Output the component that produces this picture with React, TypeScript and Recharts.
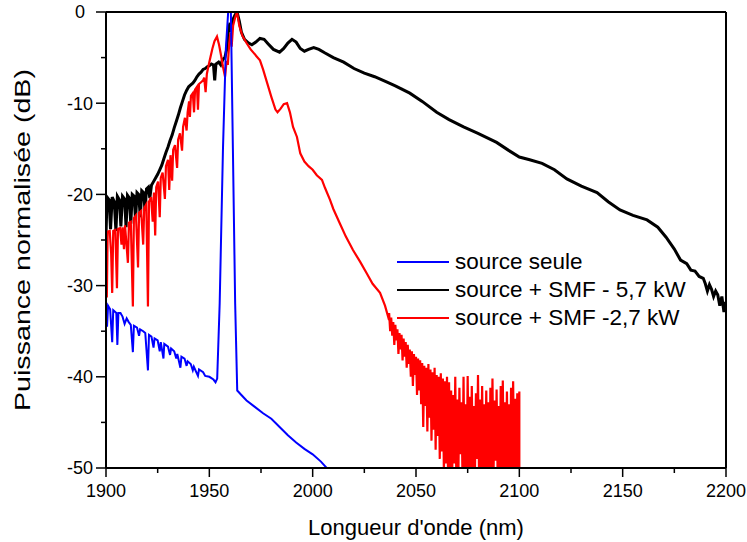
import React from 'react';
import { LineChart, Line, XAxis, YAxis, ReferenceLine } from 'recharts';

type Pt = [number, number];

// ---- axis ticks ----
const xTicks = [1900, 1925, 1950, 1975, 2000, 2025, 2050, 2075, 2100, 2125, 2150, 2175, 2200];
const yTicks = [0, -5, -10, -15, -20, -25, -30, -35, -40, -45, -50];

const seriesNames = ['source seule', 'source + SMF - 5,7 kW', 'source + SMF -2,7 kW'];
const seriesColors = ['#0000ff', '#000000', '#ff0000'];

// ---- source seule (blue) ----
const blueComb: Pt[] = [
  [1900, -32.0], [1900.5, -34.5], [1901, -32.2], [1902, -32.6], [1903, -36.2], [1903.5, -32.7],
  [1905, -33.0], [1905.5, -36.5], [1906, -33.0], [1907, -33.0], [1908, -33.4], [1909, -34.2],
  [1910, -33.6], [1911, -34.0], [1912, -34.3], [1913, -37.3], [1913.5, -34.4], [1915, -34.6],
  [1916, -35.5], [1916.5, -34.8], [1918, -35.0], [1919, -35.2], [1920.3, -39.3], [1920.8, -35.4],
  [1922, -35.6], [1923, -36.8], [1923.5, -35.8], [1925, -36.0], [1926, -37.2], [1926.5, -36.2],
  [1927.8, -38.0], [1928.2, -36.4], [1930, -36.7], [1931, -37.6], [1931.5, -36.9], [1933, -37.2],
  [1934, -38.0], [1934.5, -37.5], [1936, -39.0], [1936.5, -37.8], [1938, -38.0], [1939, -38.8],
  [1939.5, -38.3], [1941, -38.6], [1942, -39.3], [1942.5, -38.9], [1944.5, -39.9], [1945, -39.2],
  [1947, -39.5], [1948, -39.9], [1950, -40.0], [1952, -40.3], [1953, -40.6],
];
const bluePeak: Pt[] = [
  [1953.8, -40.2], [1955, -32.0], [1956.6, -15.0], [1958, -4.0], [1959.2, 0.3], [1960.4, 0.3],
  [1961.4, -15.0], [1962.5, -32.0], [1963.5, -41.5],
];
const blueTail: Pt[] = [
  [1965.5, -42.0], [1968, -42.6], [1972, -43.3], [1976, -44.0], [1980, -44.6], [1984, -45.5],
  [1988, -46.4], [1992, -47.2], [1996, -47.9], [2000, -48.5], [2004, -49.3], [2008, -50.3],
];

// ---- source + SMF 5,7 kW (black) ----
const blackComb: Pt[] = [
  [1900, -24.5], [1900.5, -20.3], [1901.5, -20.6], [1902.2, -23.8], [1903, -20.3], [1904, -20.8],
  [1904.8, -24.0], [1905.5, -20.2], [1906.5, -20.6], [1907.2, -23.5], [1908, -20.2], [1909, -20.5],
  [1909.7, -23.6], [1910.4, -20.1], [1911.3, -20.4], [1912, -23.2], [1912.7, -20.0], [1913.6, -20.2],
  [1914.3, -22.8], [1915, -19.8], [1915.8, -20.0], [1916.6, -22.5], [1917.3, -19.6], [1918.2, -19.8],
  [1918.9, -21.8], [1919.6, -19.4], [1920.5, -19.2], [1921.2, -20.4],
];
const blackRise: Pt[] = [
  [1922, -19.0], [1923, -18.6], [1924, -18.2], [1925, -17.8], [1926, -17.3], [1927, -16.8],
  [1928, -16.1], [1929, -15.4], [1930, -14.8], [1931, -14.1], [1932, -13.5], [1933, -12.7],
  [1934, -12.0], [1935, -11.3], [1936, -10.5], [1937, -9.8], [1938, -9.1], [1939, -8.6],
  [1940, -8.2], [1941, -8.0], [1942, -7.8], [1943, -7.5], [1944, -7.1], [1945, -6.8],
  [1946, -6.6], [1947, -6.3], [1948, -6.2], [1949, -6.0], [1950, -5.9], [1951, -5.7],
  [1952, -5.8], [1952.6, -7.5], [1953.2, -5.7], [1954.5, -5.5], [1955.5, -5.8], [1956.5, -5.2],
];
const blackPeak: Pt[] = [
  [1957.5, -5.0], [1958.5, -4.0], [1959.2, -2.0], [1960, -1.2], [1960.6, -2.2], [1961.5, -0.8],
  [1962.5, -0.3], [1963.4, 0.0], [1964.5, -1.0], [1965.5, -2.2], [1967, -3.0], [1969, -3.4],
  [1970.6, -3.6], [1972.5, -3.3], [1974.5, -2.9], [1976.5, -3.0], [1978.5, -3.5], [1981, -4.1],
  [1984, -4.4], [1986, -4.0], [1988, -3.4], [1990, -3.0], [1992, -3.3], [1994, -4.0],
  [1996, -4.3], [1998, -4.1], [2000.5, -3.9], [2003, -4.1], [2006, -4.5],
];
const blackTail: Pt[] = [
  [2010, -5.0], [2015, -5.5], [2020, -6.2], [2025, -6.7], [2030, -7.1], [2036, -7.7],
  [2040, -8.1], [2047, -8.9], [2053, -9.8], [2060, -11.0], [2066, -11.8], [2073, -12.6],
  [2080, -13.3], [2089, -14.3], [2095, -15.2], [2100, -15.9], [2105, -16.2], [2111, -16.6],
  [2117, -17.3], [2123, -18.3], [2130, -19.1], [2137.6, -19.8], [2143, -20.8], [2148.7, -21.7],
  [2155, -22.3], [2161.8, -22.8], [2167, -23.6], [2171, -24.7], [2175, -26.0], [2178, -27.2],
  [2181, -27.6], [2183, -28.3], [2185, -28.4], [2187, -29.0], [2189, -29.2], [2190, -29.8],
  [2191, -30.6], [2192, -29.9], [2193, -30.4], [2194, -31.2], [2195, -30.6], [2196, -31.0],
  [2197, -32.2], [2198, -31.2], [2199, -32.9], [2199.5, -31.8], [2200, -32.4],
];

// ---- source + SMF 2,7 kW (red) ----
const redComb: Pt[] = [
  [1900, -24.2], [1900.4, -31.3], [1900.8, -24.1], [1901.8, -24.0], [1902.5, -26.5], [1903, -30.8],
  [1903.5, -24.0], [1904.5, -23.9], [1905.3, -30.3], [1905.8, -23.8], [1906.8, -23.7], [1907.5, -25.5],
  [1908, -23.6], [1908.7, -26.0], [1909.2, -23.4], [1910.6, -27.5], [1911.1, -23.1], [1912, -23.0],
  [1913, -32.3], [1913.5, -22.6], [1914.5, -22.3], [1915.5, -28.0], [1916, -22.0], [1917, -21.8],
  [1918, -25.5], [1918.5, -21.5], [1919.5, -21.1], [1920.3, -32.3], [1920.8, -20.8], [1921.8, -20.3],
  [1922.6, -23.0], [1923.2, -19.8], [1923.8, -24.5], [1924.3, -19.2], [1925.2, -18.6], [1926, -22.5],
  [1926.5, -18.2], [1927.4, -17.6], [1928.5, -20.5], [1929, -16.9], [1930, -16.2], [1930.6, -19.5],
  [1931.2, -15.7], [1932, -18.5], [1932.5, -15.1], [1933.4, -14.6], [1934.4, -17.1], [1934.9, -14.0],
  [1935.8, -13.3], [1936.8, -15.2], [1937.3, -12.6], [1938.2, -11.6], [1939, -13.0], [1939.5, -11.0],
  [1940.2, -9.8], [1940.6, -11.5], [1941.1, -9.2], [1942, -8.9], [1942.6, -11.0], [1943.1, -8.5],
  [1944, -8.2], [1944.5, -10.7], [1945, -7.9], [1946, -7.7], [1947, -7.5], [1947.5, -7.2],
  [1948.2, -8.8], [1948.8, -6.8],
];
const redPeak: Pt[] = [
  [1949.5, -6.0], [1950.5, -5.0], [1951.5, -4.0], [1952.5, -3.2], [1953.7, -2.7], [1954.7, -3.6],
  [1955.7, -4.8], [1956.6, -6.0], [1957.6, -7.1], [1958.3, -5.5], [1959, -5.6], [1959.6, -3.5],
  [1960.2, -2.3], [1960.8, -3.8], [1961.5, -1.5], [1962.5, -0.6], [1963.4, 0.0], [1964.5, -1.5],
  [1966, -2.6], [1968, -3.4], [1970, -4.1], [1973, -4.9], [1974.5, -5.3], [1976, -6.3],
  [1978, -7.8], [1980, -9.3], [1982, -10.7], [1983, -11.0], [1984.5, -10.6], [1986, -10.1],
  [1987.6, -10.0], [1989, -11.0], [1990.5, -12.6], [1992.4, -13.7], [1994, -15.5], [1996, -16.4],
  [1998, -16.9], [2000, -17.3], [2002, -17.9], [2004.5, -18.4], [2006, -19.3], [2008.4, -20.6],
  [2010, -21.6], [2013, -23.1], [2016, -24.6], [2019.5, -26.1], [2023, -27.4], [2026, -28.6],
  [2029, -29.8], [2032.6, -30.8], [2035, -32.2], [2036.5, -33.4],
];
const redNoise: Pt[] = [
  [2037, -33.0], [2037.5, -35.0], [2038, -33.5], [2038.5, -35.5], [2039, -34.0], [2039.5, -36.5],
  [2040, -34.3], [2040.5, -36.0], [2041, -34.8], [2041.5, -37.5], [2042, -35.2], [2042.5, -37.0],
  [2043, -35.4], [2043.5, -38.2], [2044, -35.8], [2044.5, -37.8], [2045, -36.2], [2045.5, -39.0],
  [2046, -36.5], [2046.5, -38.6], [2047, -37.0], [2047.5, -40.0], [2048, -37.2], [2048.5, -41.0],
  [2049, -37.5], [2049.5, -39.8], [2050, -37.8], [2050.5, -42.0], [2051, -38.0], [2051.5, -41.5],
  [2052, -38.2], [2052.5, -43.0], [2053, -38.5], [2053.5, -45.5], [2054, -38.8], [2054.5, -43.2],
  [2055, -39.0], [2055.5, -46.0], [2056, -38.6], [2056.5, -44.5], [2057, -39.2], [2057.5, -47.0],
  [2058, -39.5], [2058.5, -45.8], [2059, -39.0], [2059.5, -48.0], [2060, -39.8], [2060.5, -46.5],
  [2061, -40.0], [2061.5, -49.0], [2062, -39.6], [2062.5, -48.2], [2063, -40.2], [2063.5, -50.5],
  [2064, -40.5], [2064.5, -49.5], [2065, -40.0], [2065.5, -51.0],
];
const redNoiseTail: Pt[] = [
  [2066, -40.6], [2066.5, -51], [2067, -41.5], [2067.5, -51], [2068, -42.0], [2068.5, -49.5],
  [2069, -40.0], [2069.5, -51], [2070, -42.5], [2070.5, -51], [2071, -41.2], [2071.5, -48.5],
  [2072, -42.8], [2072.5, -51], [2073, -40.0], [2073.5, -51], [2074, -43.0], [2074.5, -51],
  [2075, -39.9], [2075.5, -50.0], [2076, -42.2], [2076.5, -51], [2077, -41.0], [2077.5, -51],
  [2078, -43.2], [2078.5, -51], [2079, -41.8], [2079.5, -49.0], [2080, -39.8], [2080.5, -51],
  [2081, -42.5], [2081.5, -51], [2082, -41.0], [2082.5, -51], [2083, -43.0], [2083.5, -50.2],
  [2084, -41.5], [2084.5, -51], [2085, -42.8], [2085.5, -51], [2086, -41.2], [2086.5, -51],
  [2087, -40.2], [2087.5, -51], [2088, -42.6], [2088.5, -49.2], [2089, -41.4], [2089.5, -51],
  [2090, -43.2], [2090.5, -51], [2091, -41.0], [2091.5, -51], [2092, -40.4], [2092.5, -51],
  [2093, -42.8], [2093.5, -50.0], [2094, -41.6], [2094.5, -51], [2095, -43.0], [2095.5, -51],
  [2096, -41.2], [2096.5, -51], [2097, -40.5], [2097.5, -51], [2098, -42.4], [2098.5, -51],
  [2099, -41.8], [2099.5, -51], [2100, -41.6], [2100, -51],
];

const toRows = (segments: Pt[][]) =>
  segments.flat().map(([x, y]) => ({ x, y }));

const blueData = toRows([blueComb, bluePeak, blueTail]);
const blackData = toRows([blackComb, blackRise, blackPeak, blackTail]);
const redData = toRows([redComb, redPeak, redNoise, redNoiseTail]);

const xMin = xTicks[0];
const xMax = xTicks[xTicks.length - 1];
const yMax = yTicks[0];

const FONT = '"Liberation Sans", Arial, Helvetica, sans-serif';

const XTick = (props: any) => {
  const { x, y, payload } = props;
  const major = payload.value % 50 === 0;
  return (
    <g>
      <line x1={x} y1={y} x2={x} y2={y + (major ? 9 : 5)} stroke="#000" strokeWidth={1.5} />
      {major && (
        <text x={x} y={y + 29} textAnchor="middle" fontSize={18} fontFamily={FONT} fill="#000">
          {payload.value}
        </text>
      )}
    </g>
  );
};

const YTick = (props: any) => {
  const { x, y, payload } = props;
  const major = Math.abs(payload.value) % 10 === 0;
  return (
    <g>
      <line x1={x} y1={y} x2={x - (major ? 10 : 5)} y2={y} stroke="#000" strokeWidth={1.5} />
      {major && (
        <text x={x - 26} y={y} dy="0.36em" textAnchor="middle" fontSize={18} fontFamily={FONT} fill="#000">
          {payload.value}
        </text>
      )}
    </g>
  );
};

const W = 747;
const H = 542;

export default function App() {
  const datasets = [blueData, blackData, redData];
  const widths = [2, 3, 2.2];
  const order = [1, 2, 0];
  return (
    <div style={{ position: 'fixed', left: 0, top: 0, width: W, height: H, fontFamily: FONT, background: '#fff' }}>
      <LineChart width={W} height={H} margin={{ top: 12, right: 21, left: 0, bottom: 0 }}>
        <XAxis
          dataKey="x"
          type="number"
          domain={[xMin, xMax]}
          ticks={xTicks}
          interval={0}
          allowDataOverflow
          height={74}
          tickSize={0}
          tickMargin={0}
          tick={<XTick />}
          axisLine={{ stroke: '#000', strokeWidth: 2 }}
          tickLine={false}
        />
        <YAxis
          type="number"
          domain={[-50, 0]}
          ticks={yTicks}
          interval={0}
          allowDataOverflow
          width={106}
          tickSize={0}
          tickMargin={0}
          tick={<YTick />}
          axisLine={{ stroke: '#000', strokeWidth: 2 }}
          tickLine={false}
        />
        {order.map((i) => (
          <Line
            key={seriesNames[i]}
            data={datasets[i]}
            dataKey="y"
            name={seriesNames[i]}
            type="linear"
            stroke={seriesColors[i]}
            strokeWidth={widths[i]}
            dot={false}
            activeDot={false}
            isAnimationActive={false}
          />
        ))}
        <ReferenceLine
          segment={[{ x: xMin, y: yMax }, { x: xMax, y: yMax }]}
          stroke="#000"
          strokeWidth={2}
          ifOverflow="visible"
        />
        <ReferenceLine x={xMax} stroke="#000" strokeWidth={2} />
      </LineChart>
      <svg width={W} height={H} style={{ position: 'absolute', left: 0, top: 0, pointerEvents: 'none' }}>
        <text x={416} y={535} textAnchor="middle" fontSize={22} fontFamily={FONT} fill="#000">
          Longueur d'onde (nm)
        </text>
        <text
          x={22}
          y={240}
          textAnchor="middle"
          dominantBaseline="central"
          fontSize={22}
          textLength={342}
          lengthAdjust="spacingAndGlyphs"
          fontFamily={FONT}
          fill="#000"
          transform="rotate(-90 22 240)"
        >
          Puissance normalisée (dB)
        </text>
      </svg>
      <div style={{ position: 'absolute', left: 397, top: 248 }}>
        {seriesNames.map((n, i) => (
          <div key={n} style={{ display: 'flex', alignItems: 'center', height: 28 }}>
            <div style={{ width: 52, height: 2, background: seriesColors[i], marginRight: 6 }} />
            <span style={{ fontSize: 22.5, color: '#000', whiteSpace: 'nowrap' }}>{n}</span>
          </div>
        ))}
      </div>
    </div>
  );
}
